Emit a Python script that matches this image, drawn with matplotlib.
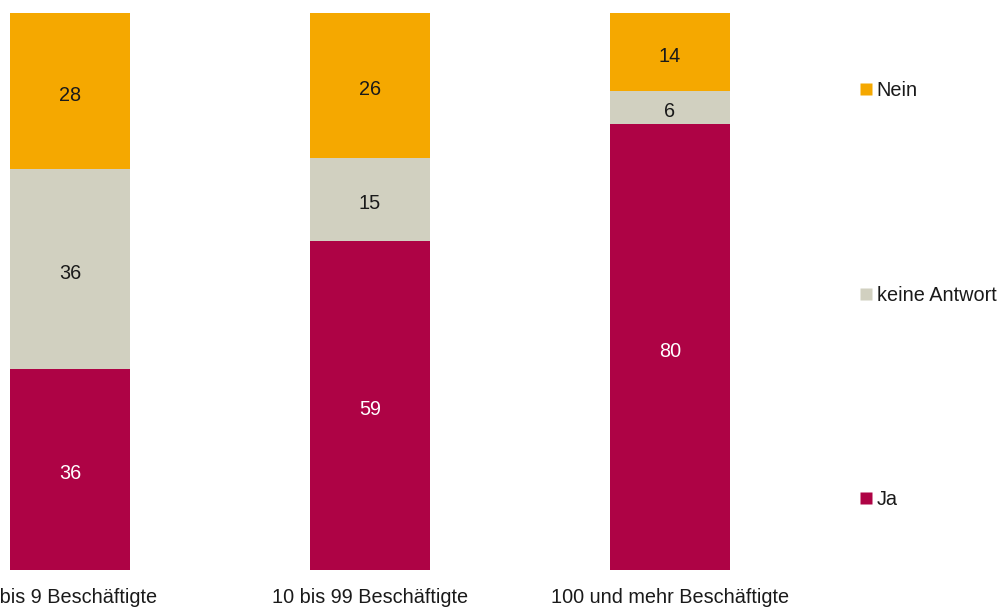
import matplotlib
matplotlib.use("Agg")
import matplotlib.pyplot as plt
from matplotlib.lines import Line2D
import numpy as np

categories = ["1 bis 9 Beschäftigte", "10 bis 99 Beschäftigte", "100 und mehr Beschäftigte"]
ja = [36, 59, 80]
keine = [36, 15, 6]
nein = [28, 26, 14]
series_names = ["Ja", "keine Antwort", "Nein"]
colors = {"Ja": "#AE0345", "keine Antwort": "#D1D0C0", "Nein": "#F5A800"}
text_colors = {"Ja": "white", "keine Antwort": "#1a1a1a", "Nein": "#1a1a1a"}

plt.rcParams['font.family'] = ['Liberation Sans', 'DejaVu Sans']
FS = 14.3

fig = plt.figure(figsize=(10.03, 6.08), dpi=100)
W, H = 1003, 608
ax = fig.add_axes([-80 / W, 38 / H, 900 / W, 557 / H])
x = np.arange(len(categories))
bottom = np.zeros(len(categories))
for name, vals in zip(series_names, [ja, keine, nein]):
    vals = np.array(vals, dtype=float)
    ax.bar(x, vals, bottom=bottom, width=0.4, color=colors[name], edgecolor='none')
    for xi, b, v in zip(x, bottom, vals):
        ax.annotate(f"{int(v)}", (xi, b + v / 2), xytext=(0, -3), textcoords='offset points',
                    ha='center', va='center', color=text_colors[name], fontsize=FS)
    bottom += vals

ax.set_xlim(-0.5, 2.5)
ax.set_ylim(0, 100)
ax.set_xticks(x)
ax.set_xticklabels(categories, fontsize=FS, color="#1a1a1a")
ax.tick_params(axis='x', length=0, pad=13)
ax.set_yticks([])
for s in ax.spines.values():
    s.set_visible(False)

handles = [Line2D([], [], marker='s', linestyle='none', markersize=8,
                  markerfacecolor=colors[n], markeredgecolor='none') for n in ["Nein", "keine Antwort", "Ja"]]
fig.legend(handles, ["Nein", "keine Antwort", "Ja"], loc='upper left',
           bbox_to_anchor=(849 / W, 1 - 71 / H), frameon=False, borderpad=0,
           fontsize=FS, labelspacing=9.35, handlelength=0.7, handletextpad=0.2,
           labelcolor="#1a1a1a")

fig.savefig("out.png", dpi=100)
